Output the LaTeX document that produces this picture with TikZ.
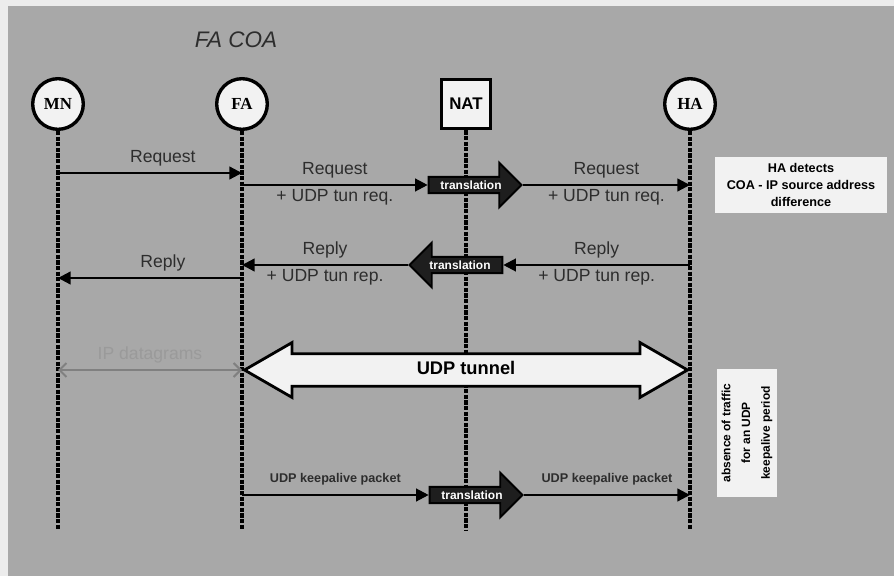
\documentclass[tikz,border=0pt]{standalone}
\usepackage{fontspec}
\setmainfont{Liberation Sans}
\newfontfamily\timesfont{Liberation Serif}
\usetikzlibrary{arrows.meta,positioning,shapes.arrows}
\definecolor{slidegray}{RGB}{168,168,168}
\definecolor{paper}{RGB}{236,236,236}
\definecolor{boxwhite}{RGB}{242,242,242}
\definecolor{labelgray}{RGB}{45,45,45}
\definecolor{dgramgray}{RGB}{128,128,128}
\definecolor{transblack}{RGB}{30,30,30}

\begin{document}
\begin{tikzpicture}[x=0.025cm, y=-0.025cm,
    entity/.style={circle, draw, line width=2.4pt, fill=boxwhite, minimum size=36pt, inner sep=0pt, font=\timesfont\fontsize{12}{12}\selectfont\bfseries},
    natbox/.style={draw, line width=2.4pt, fill=boxwhite, minimum size=35pt, inner sep=0pt, font=\fontsize{12}{12}\selectfont\bfseries},
    life/.style={line width=2.2pt, dash pattern=on 3pt off 1pt},
    msg/.style={-{Triangle[length=9pt,width=9pt]}, line width=1.6pt},
    lbl/.style={font=\fontsize{12.5}{14}\selectfont, text=labelgray, inner sep=2pt},
    kalbl/.style={font=\fontsize{9}{10}\selectfont\bfseries, text=labelgray, inner sep=2pt},
    trans/.style={single arrow, draw=black, line width=1.4pt, fill=transblack, text=white, font=\fontsize{8.5}{8.5}\selectfont\bfseries, single arrow head extend=10pt, minimum height=66pt, inner ysep=2pt, inner xsep=1pt},
    tunnel/.style={double arrow, draw, line width=2pt, fill=boxwhite, minimum height=315pt, double arrow head extend=8pt, double arrow tip angle=60, text height=9.5pt, text depth=2.5pt, inner ysep=4.5pt, font=\fontsize{13}{13}\selectfont\bfseries},
    note/.style={fill=boxwhite, align=center, font=\fontsize{9}{12}\selectfont\bfseries}
]
\fill[paper] (0,0) rectangle (894,576);
\fill[slidegray] (8,6) rectangle (894,576);
\useasboundingbox (0,0) rectangle (894,576);

\node[font=\fontsize{16}{16}\selectfont\itshape, text=labelgray] (title) at (236,40) {FA COA};

\node[entity] (mn) at (58,104) {MN};
\node[entity] (fa) at (242,104) {FA};
\node[natbox] (nat) at (466,104) {NAT};
\node[entity] (ha) at (690,104) {HA};

\foreach \n in {mn,fa,nat,ha}
  \draw[life] (\n.south) -- (\n |- 0,530);

\node[trans] (trq) at (471,185) {translation};
\node[trans, shape border rotate=180] (trp) at (460,265) {translation};
\node[trans] (trk) at (472,495) {translation};

\draw[msg] (mn |- 0,173) -- node[lbl, above=2pt, pos=0.57] {Request} (fa |- 0,173);
\draw[msg] (fa |- trq) -- node[lbl, above=2pt] {Request} node[lbl, below] {+ UDP tun req.} (trq.tail);
\draw[msg] (trq.tip) -- node[lbl, above=2pt] {Request} node[lbl, below] {+ UDP tun req.} (ha |- trq);

\draw[msg] (ha |- trp) -- node[lbl, above=2pt] {Reply} node[lbl, below] {+ UDP tun rep.} (trp.tail);
\draw[msg] (trp.tip) -- node[lbl, above=2pt] {Reply} node[lbl, below] {+ UDP tun rep.} (fa |- trp);
\draw[msg] (fa |- 0,278) -- node[lbl, above=2pt, pos=0.43] {Reply} (mn |- 0,278);

\draw[{Straight Barb[length=5pt,width=10pt]}-{Straight Barb[length=5pt,width=10pt]}, line width=1.4pt, dgramgray] (mn |- 0,370) -- node[lbl, above=2pt, text=dgramgray!80!white] {IP datagrams} (fa |- 0,370);
\node[tunnel] (tun) at (466,370) {UDP tunnel};

\draw[msg] (fa |- trk) -- node[kalbl, above=4pt] {UDP keepalive packet} (trk.tail);
\draw[msg] (trk.tip) -- node[kalbl, above=4pt] {UDP keepalive packet} (ha |- trk);

\node[note, minimum width=123pt, minimum height=40pt] (detect) at (801,185) {HA detects\\COA - IP source address\\difference};
\node[note, rotate=90, minimum width=91pt, minimum height=43pt, font=\fontsize{8.5}{14}\selectfont\bfseries] (idle) at (747,433) {absence of traffic\\for an UDP\\keepalive period};
\end{tikzpicture}
\end{document}
